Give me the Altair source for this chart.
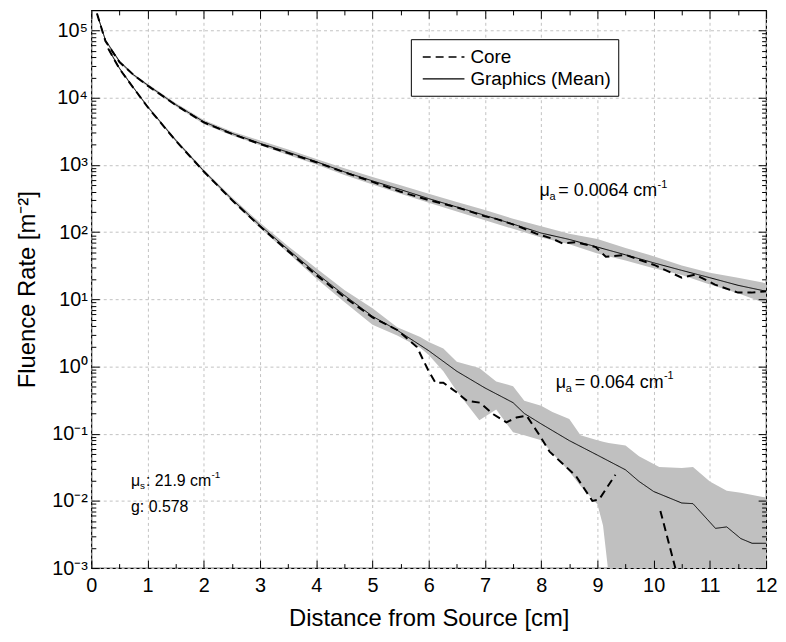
import altair as alt
import pandas as pd

FONT = "Liberation Sans, Arial, Helvetica, sans-serif"
W, H = 680, 562

# ---------------- data ----------------
# mu_a = 0.0064 cm^-1 : Graphics mean and its spread band
up_x = [0.1, 0.25, 0.5, 0.75, 1, 1.5, 2, 2.5, 3, 3.5, 4, 4.5, 5, 5.5, 6, 6.5, 7,
        7.5, 8, 8.5, 9, 9.5, 10, 10.5, 11, 11.5, 12]
up_mean = [1.8e5, 7.2e4, 3.5e4, 2.2e4, 1.55e4, 7.9e3, 4.4e3, 2.95e3, 2.1e3, 1.55e3,
           1.12e3, 790, 580, 430, 316, 237, 178, 132, 97, 78, 60, 46, 35, 27, 21,
           16.2, 13.2]
up_hi = [1.86e5, 7.6e4, 3.63e4, 2.29e4, 1.62e4, 8.4e3, 4.68e3, 3.16e3, 2.32e3, 1.70e3,
         1.23e3, 891, 661, 501, 372, 282, 214, 158, 123, 95, 79, 58, 44, 32, 25, 21,
         17.4]
up_lo = [1.70e5, 6.9e4, 3.31e4, 2.09e4, 1.48e4, 7.5e3, 4.07e3, 2.75e3, 1.97e3, 1.41e3,
         1.02e3, 708, 513, 372, 275, 204, 151, 112, 83, 66, 48, 38, 29, 23, 16.6,
         12.3, 8.7]
# mu_a = 0.0064 cm^-1 : Core
up_core_x = [0.1, 0.25, 0.5, 0.75, 1, 1.5, 2, 2.5, 3, 3.5, 4, 4.5, 5, 5.5, 6, 6.5, 7,
             7.2, 7.6, 7.91, 8.2, 8.38, 8.62, 8.97, 9.15, 9.5, 10.03, 10.2, 10.5,
             10.74, 11.09, 11.5, 11.74, 12]
up_core = [1.8e5, 7.0e4, 3.4e4, 2.2e4, 1.52e4, 7.8e3, 4.3e3, 2.9e3, 2.05e3, 1.5e3,
           1.1e3, 780, 560, 400, 300, 235, 172, 158, 122, 95, 80, 68, 71, 60, 43, 46,
           32, 27.5, 21, 23.4, 16.6, 12.6, 12.6, 13.2]

# mu_a = 0.064 cm^-1 : Graphics mean
lo_x = [0.3, 0.5, 0.75, 1, 1.5, 2, 2.5, 3, 3.5, 4, 4.5, 5, 5.44, 6, 6.5, 7, 7.5, 7.7,
        8, 8.5, 9, 9.5, 9.74, 10, 10.5, 10.7, 11.1, 11.3, 11.55, 11.75, 12]
lo_mean = [5.4e4, 2.75e4, 1.41e4, 7.4e3, 2.34e3, 813, 309, 126, 55, 24.5, 11.5, 5.6,
           3.47, 1.72, 0.85, 0.48, 0.29, 0.20, 0.14, 0.079, 0.048, 0.029, 0.0195,
           0.0138, 0.0093, 0.0091, 0.0039, 0.0041, 0.00275, 0.00234, 0.00234]
# mu_a = 0.064 cm^-1 : spread band
lo_band_x = [0.3, 0.5, 0.75, 1, 1.5, 2, 2.5, 3, 3.5, 4, 4.5, 5, 5.44, 5.85, 6, 6.26,
             6.5, 6.9, 7.2, 7.5, 7.7, 8, 8.2, 8.5, 8.7, 9, 9.1, 9.2, 9.5, 9.74, 10.1,
             10.5, 10.7, 11, 11.3, 11.55, 12]
lo_band_hi = [5.6e4, 2.85e4, 1.46e4, 7.7e3, 2.45e3, 860, 330, 138, 62, 29, 13.8, 7.4,
              3.85, 2.75, 2.32, 1.86, 1.18, 0.95, 0.60, 0.51, 0.31, 0.26, 0.21, 0.166,
              0.095, 0.080, 0.076, 0.073, 0.067, 0.046, 0.032, 0.031, 0.032, 0.0195,
              0.0141, 0.0132, 0.0112]
lo_band_lo = [5.2e4, 2.65e4, 1.36e4, 7.1e3, 2.24e3, 770, 290, 115, 49, 20.5, 9.1, 4.2,
              2.9, 1.9, 1.48, 0.85, 0.43, 0.158, 0.23, 0.105, 0.095, 0.080, 0.051,
              0.0275, 0.0166, 0.0089, 0.0043, 8e-4, 1e-5, 1e-5, 1e-5, 1e-5, 1e-5,
              1e-5, 1e-5, 1e-5, 1e-5]
# mu_a = 0.064 cm^-1 : Core (two separate pieces)
lo_core_x = [0.3, 0.5, 0.75, 1, 1.5, 2, 2.5, 3, 3.5, 4, 4.5, 5, 5.44, 5.79, 6.0, 6.12,
             6.26, 6.5, 6.68, 6.91, 7.15, 7.38, 7.56, 7.74, 7.97, 8.15, 8.62, 8.91,
             9.03, 9.32, 10.12, 10.4]
lo_core = [5.4e4, 2.7e4, 1.4e4, 7.3e3, 2.3e3, 800, 300, 122, 52, 23, 10.8, 5.4, 3.5,
           1.95, 0.85, 0.575, 0.575, 0.41, 0.31, 0.29, 0.195, 0.148, 0.174, 0.186,
           0.095, 0.054, 0.0234, 0.010, 0.0105, 0.0245, 0.0071, 9e-4]
lo_core_piece = ["a"] * 30 + ["b"] * 2

series_names = ["Core", "Graphics (Mean)"]
x_labels = list(range(0, 13))
y_exponents = list(range(-3, 6))
sup_digits = ["⁻³", "⁻²", "⁻¹", "⁰", "¹", "²", "³", "⁴", "⁵"]

# ---------------- tables ----------------
up_band = pd.DataFrame({"x": up_x, "lo": up_lo, "hi": up_hi})
lo_band = pd.DataFrame({"x": lo_band_x, "lo": lo_band_lo, "hi": lo_band_hi})
core = pd.concat([
    pd.DataFrame({"x": up_core_x, "y": up_core, "curve": "up", "source": series_names[0]}),
    pd.DataFrame({"x": lo_core_x, "y": lo_core,
                  "curve": ["low-" + p for p in lo_core_piece], "source": series_names[0]}),
], ignore_index=True)
mean = pd.concat([
    pd.DataFrame({"x": up_x, "y": up_mean, "curve": "up", "source": series_names[1]}),
    pd.DataFrame({"x": lo_x, "y": lo_mean, "curve": "low", "source": series_names[1]}),
], ignore_index=True)

# ---------------- scales & axes ----------------
xs = alt.Scale(domain=[0, 12], nice=False, zero=False)
ys = alt.Scale(type="log", domain=[1e-3, 2e5], nice=False)

x_tick_vals = [i * 0.5 for i in range(0, 25)]
y_major = [10.0 ** e for e in y_exponents]
y_tick_vals = [m * 10.0 ** e for e in y_exponents[:-1] for m in range(1, 10)] + [1e5]
x_test = "abs(datum.value - round(datum.value)) < 0.01"
y_test = "abs(log(datum.value)/LN10 - round(log(datum.value)/LN10)) < 0.001"
sup_js = "[" + ",".join("'" + s + "'" for s in sup_digits) + "]"

GRID = dict(grid=True, gridColor="#c2c2c2", gridDash=[3, 3], gridWidth=1)

x_main = alt.Axis(orient="bottom", values=x_labels, format="d", labelFontSize=20,
                  labelFont=FONT, labelColor="black", labelPadding=8, labelFlush=False,
                  ticks=False, domain=False, title="Distance from Source [cm]",
                  titleFont=FONT, titleFontSize=24, titleFontWeight="normal",
                  titleColor="black", titlePadding=11, **GRID)
y_main = alt.Axis(orient="left", values=y_major, labelFontSize=20, labelFont=FONT,
                  labelColor="black", labelPadding=4, ticks=False, domain=False,
                  labelExpr="'10' + " + sup_js + "[round(log(datum.value)/LN10)+3]",
                  title="Fluence Rate [m⁻²]", titleFont=FONT, titleFontSize=24,
                  titleFontWeight="normal", titleColor="black", titlePadding=12, **GRID)


def tick_axis(orient, offset, values, test):
    return alt.Axis(orient=orient, offset=offset, values=values, labels=False,
                    domain=False, grid=False, ticks=True, tickColor="black",
                    tickWidth=1, title=None, zindex=1,
                    tickSize={"condition": {"test": test, "value": 8}, "value": 4.5})


dash_scale = alt.Scale(domain=series_names, range=[[8, 5], [1, 0]])
legend = alt.Legend(title=None, orient="none", legendX=322, legendY=29,
                    symbolType="M-0.6,0H3.6", symbolSize=400, symbolStrokeColor="black",
                    symbolStrokeWidth=1.4, labelFont=FONT, labelFontSize=19,
                    labelColor="black", labelOffset=31, strokeColor="black",
                    fillColor="white", padding=7, rowPadding=1, cornerRadius=0)

# ---------------- layers ----------------
band_up = alt.Chart(up_band).mark_area(color="#c0c0c0", clip=True).encode(
    x=alt.X("x:Q", scale=xs, axis=x_main),
    y=alt.Y("lo:Q", scale=ys, axis=y_main),
    y2="hi:Q",
)
band_lo = alt.Chart(lo_band).mark_area(color="#c0c0c0", clip=True).encode(
    x=alt.X("x:Q", scale=xs, axis=tick_axis("top", -H, x_tick_vals, x_test)),
    y=alt.Y("lo:Q", scale=ys, axis=tick_axis("right", -W, y_tick_vals, y_test)),
    y2="hi:Q",
)
core_lines = alt.Chart(core).mark_line(color="black", strokeWidth=2, clip=True).encode(
    x=alt.X("x:Q", scale=xs, axis=tick_axis("bottom", -H, x_tick_vals, x_test)),
    y=alt.Y("y:Q", scale=ys, axis=tick_axis("left", -W, y_tick_vals, y_test)),
    detail="curve:N",
    strokeDash=alt.StrokeDash("source:N", scale=dash_scale, legend=legend),
)
mean_lines = alt.Chart(mean).mark_line(color="black", strokeWidth=1, clip=True).encode(
    x=alt.X("x:Q", scale=xs, axis=None),
    y=alt.Y("y:Q", scale=ys, axis=None),
    detail="curve:N",
    strokeDash=alt.StrokeDash("source:N", scale=dash_scale, legend=legend),
)


def txt(x, y, s, size, dx=0, dy=0):
    return alt.Chart(pd.DataFrame({"x": [x], "y": [y], "t": [s]})).mark_text(
        align="left", baseline="middle", font=FONT, fontSize=size, color="black",
        dx=dx, dy=dy).encode(
        x=alt.X("x:Q", scale=xs, axis=None),
        y=alt.Y("y:Q", scale=ys, axis=None),
        text="t:N")


texts = [
    txt(7.97, 403, "μ", 18), txt(7.97, 403, "a", 11, dx=10, dy=6),
    txt(7.97, 403, " = 0.0064 cm", 18, dx=19), txt(7.97, 403, "-1", 11, dx=119, dy=-7),
    txt(8.26, 0.57, "μ", 18), txt(8.26, 0.57, "a", 11, dx=10, dy=6),
    txt(8.26, 0.57, " = 0.064 cm", 18, dx=19), txt(8.26, 0.57, "-1", 11, dx=109, dy=-7),
    txt(0.706, 0.0196, "μ", 16), txt(0.706, 0.0196, "s", 10, dx=9, dy=5),
    txt(0.706, 0.0196, ": 21.9 cm", 16, dx=15), txt(0.706, 0.0196, "-1", 10, dx=81, dy=-6),
    txt(0.706, 0.0081, "g: 0.578", 16),
]

chart = alt.layer(band_up, band_lo, core_lines, mean_lines, *texts).resolve_axis(
    x="independent", y="independent"
).properties(
    width=W, height=H,
    autosize=alt.AutoSizeParams(type="none"),
    padding={"left": 84, "top": 0, "right": 12, "bottom": 64},
).configure_view(stroke="black", strokeWidth=1.2)

chart.save("out.html", embed_options={"renderer": "svg", "actions": False})
